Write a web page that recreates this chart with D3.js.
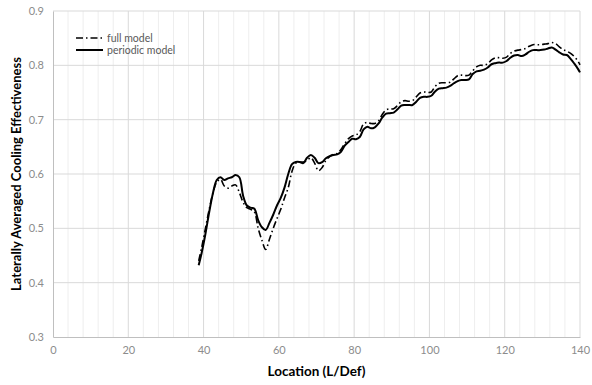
<!DOCTYPE html>
<html>
<head>
<meta charset="utf-8">
<script src="https://cdn.jsdelivr.net/npm/d3@7"></script>
<style>
  body { margin: 0; background: #fff; }
  svg text { font-family: Lato, "Open Sans", sans-serif; }
</style>
</head>
<body>
<div id="chart"></div>
<script>
// location along the plate (L/Def)
const location_ = [38.7, 39.5, 40.5, 41.5, 42.5, 43.5, 44.5, 45.5, 46.5, 47.5, 48.5, 49.5,
  50.5, 51.5, 52.5, 53.5, 54.5, 55.5, 56.5, 57.5, 58.5, 59.5, 60.5, 61.5, 62.5, 63.5,
  64.5, 65.5, 66.5, 67.5, 68.5, 69.5, 70.5, 71.5, 72.5, 73.5, 74.5, 75.5, 76.5, 77.5,
  78.5, 79.5, 80.5, 81.5, 82.5, 83.5, 84.5, 85.5, 86.5, 87.5, 88.5, 89.5, 90.5, 91.5,
  92.5, 93.5, 94.5, 95.5, 96.5, 97.5, 98.5, 99.5, 100.5, 101.5, 102.5, 103.5, 104.5,
  105.5, 106.5, 107.5, 108.5, 109.5, 110.5, 111.5, 112.5, 113.5, 114.5, 115.5, 116.5,
  117.5, 118.5, 119.5, 120.5, 121.5, 122.5, 123.5, 124.5, 125.5, 126.5, 127.5, 128.5,
  129.5, 130.5, 131.5, 132.5, 133.5, 134.5, 135.5, 136.5, 137.5, 138.5, 139.5, 140];

const fullModel = [0.44, 0.465, 0.50, 0.535, 0.565, 0.585, 0.59, 0.578, 0.574, 0.578, 0.58, 0.566,
  0.548, 0.538, 0.535, 0.53, 0.50, 0.478, 0.461, 0.48, 0.50, 0.518, 0.535, 0.556, 0.575, 0.605,
  0.62, 0.622, 0.622, 0.625, 0.63, 0.62, 0.606, 0.612, 0.625, 0.632, 0.636, 0.638, 0.645, 0.656,
  0.665, 0.670, 0.672, 0.678, 0.692, 0.695, 0.693, 0.693, 0.698, 0.71, 0.718, 0.72, 0.72, 0.726,
  0.733, 0.735, 0.734, 0.735, 0.742, 0.749, 0.751, 0.75, 0.751, 0.761, 0.767, 0.768, 0.768,
  0.769, 0.775, 0.781, 0.782, 0.781, 0.782, 0.79, 0.797, 0.80, 0.80, 0.803, 0.81,
  0.814, 0.814, 0.813, 0.815, 0.822, 0.826, 0.828, 0.829, 0.831, 0.835, 0.838, 0.838,
  0.838, 0.839, 0.84, 0.842, 0.84, 0.834, 0.829, 0.826, 0.822, 0.816, 0.807, 0.801];

const periodicModel = [0.432, 0.455, 0.49, 0.53, 0.565, 0.589, 0.594, 0.589, 0.592, 0.594, 0.598, 0.594,
  0.56, 0.542, 0.538, 0.536, 0.515, 0.502, 0.497, 0.51, 0.525, 0.542, 0.556, 0.575, 0.60, 0.618,
  0.622, 0.622, 0.62, 0.63, 0.635, 0.63, 0.62, 0.622, 0.629, 0.633, 0.635, 0.636, 0.641, 0.652,
  0.659, 0.665, 0.664, 0.668, 0.682, 0.687, 0.684, 0.686, 0.693, 0.704, 0.711, 0.712, 0.713, 0.719,
  0.726, 0.727, 0.727, 0.727, 0.733, 0.740, 0.742, 0.742, 0.744, 0.752, 0.757, 0.758, 0.759,
  0.762, 0.767, 0.771, 0.773, 0.773, 0.774, 0.784, 0.789, 0.790, 0.792, 0.796, 0.802,
  0.804, 0.805, 0.805, 0.808, 0.814, 0.818, 0.819, 0.817, 0.82, 0.825, 0.828, 0.828,
  0.828, 0.829, 0.831, 0.833, 0.829, 0.824, 0.82, 0.819, 0.812, 0.803, 0.793, 0.787];

const xTicks = [0, 20, 40, 60, 80, 100, 120, 140];
const yTicks = [0.3, 0.4, 0.5, 0.6, 0.7, 0.8, 0.9];
const legendLabels = ['full model', 'periodic model'];

const width = 592, height = 385;
const margin = { top: 11, right: 12, bottom: 48, left: 53 };
const innerW = width - margin.left - margin.right,
  innerH = height - margin.top - margin.bottom;

const svg = d3.select('#chart')
  .append('svg')
  .attr('width', width)
  .attr('height', height);

const g = svg.append('g')
  .attr('transform', `translate(${margin.left}, ${margin.top})`);

const x = d3.scaleLinear().domain([0, 140]).range([0, innerW]);
const y = d3.scaleLinear().domain([0.3, 0.9]).range([innerH, 0]);

// minor vertical grid every 4
g.selectAll('.minorX')
  .data(d3.range(4, 140, 4).filter((d) => d % 20 !== 0))
  .enter()
  .append('line')
  .attr('x1', (d) => x(d)).attr('x2', (d) => x(d))
  .attr('y1', 0).attr('y2', innerH)
  .attr('stroke', '#eeeeee')
  .attr('stroke-width', 1);

// major grid
g.selectAll('.majorX')
  .data(xTicks.slice(1))
  .enter()
  .append('line')
  .attr('x1', (d) => x(d)).attr('x2', (d) => x(d))
  .attr('y1', 0).attr('y2', innerH)
  .attr('stroke', '#d9d9d9')
  .attr('stroke-width', 1);

g.selectAll('.majorY')
  .data(yTicks.slice(1))
  .enter()
  .append('line')
  .attr('x1', 0).attr('x2', innerW)
  .attr('y1', (d) => y(d)).attr('y2', (d) => y(d))
  .attr('stroke', '#d9d9d9')
  .attr('stroke-width', 1);

// axes
const xAxis = g.append('g')
  .attr('transform', `translate(0, ${innerH})`)
  .call(d3.axisBottom(x).tickValues(xTicks).tickSize(0).tickPadding(9));
const yAxis = g.append('g')
  .call(d3.axisLeft(y).tickValues(yTicks).tickSize(0).tickPadding(9).tickFormat(d3.format('.1f')));
[xAxis, yAxis].forEach((a) => {
  a.select('.domain').attr('stroke', '#bfbfbf');
  a.selectAll('text').attr('fill', '#8c8c8c').style('font-size', '11px');
});

// lines
const line = (vals) => d3.line()
  .x((d, i) => x(location_[i]))
  .y((d) => y(d))
  .curve(d3.curveCatmullRom)(vals);

g.append('path')
  .attr('d', line(fullModel))
  .attr('fill', 'none')
  .attr('stroke', '#000')
  .attr('stroke-width', 1.6)
  .attr('stroke-dasharray', '7 3 1.5 3');

g.append('path')
  .attr('d', line(periodicModel))
  .attr('fill', 'none')
  .attr('stroke', '#000')
  .attr('stroke-width', 2);

// legend
const legend = svg.append('g').attr('transform', 'translate(76, 38)');
legendLabels.forEach((lab, i) => {
  const row = legend.append('g').attr('transform', `translate(0, ${i * 12})`);
  row.append('line')
    .attr('x1', 0).attr('x2', 27)
    .attr('stroke', '#000')
    .attr('stroke-width', i === 0 ? 1.6 : 2)
    .attr('stroke-dasharray', i === 0 ? '7 3 1.5 3' : null);
  row.append('text')
    .attr('x', 31).attr('y', 3.5)
    .style('font-size', '10.5px')
    .attr('fill', '#595959')
    .text(lab);
});

// axis titles
svg.append('text')
  .attr('x', margin.left + innerW / 2)
  .attr('y', 376)
  .attr('text-anchor', 'middle')
  .style('font-size', '13.5px')
  .style('font-weight', 'bold')
  .attr('fill', '#000')
  .text('Location (L/Def)');

svg.append('text')
  .attr('transform', 'rotate(-90)')
  .attr('x', -(margin.top + innerH / 2))
  .attr('y', 21)
  .attr('text-anchor', 'middle')
  .style('font-size', '13px')
  .style('font-weight', 'bold')
  .attr('fill', '#000')
  .text('Laterally Averaged Cooling Effectiveness');
</script>
</body>
</html>
